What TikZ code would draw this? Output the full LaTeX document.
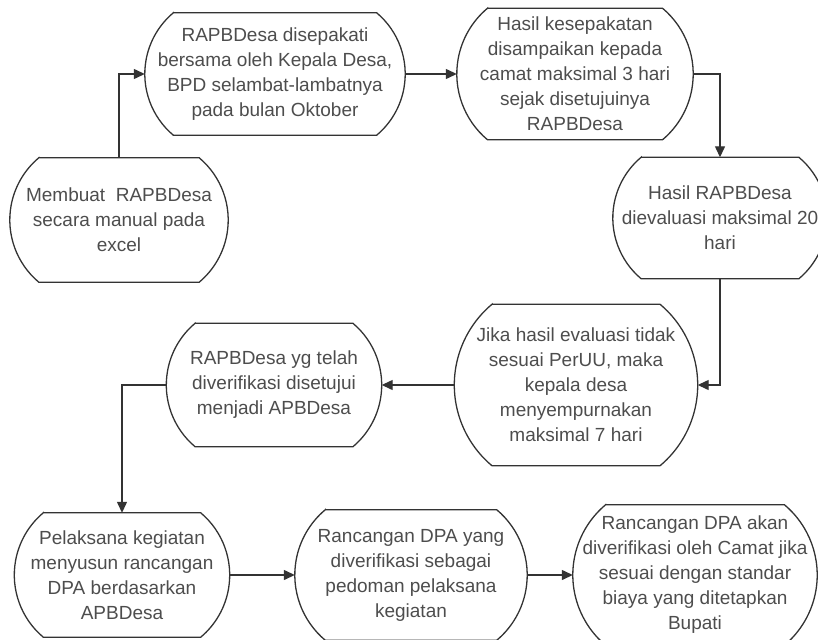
\documentclass[tikz,border=0pt]{standalone}
\usepackage{fontspec}
\setmainfont{Liberation Sans}
\usetikzlibrary{arrows.meta,calc}
\definecolor{abu}{HTML}{4D4D4D}
\definecolor{garis}{HTML}{333333}
\tikzset{
  kotak/.style={rectangle,inner sep=0pt,align=center,text=abu,
                font=\fontsize{19pt}{25pt}\selectfont},
  tepi/.style={draw=garis,line width=1.3pt},
  panah/.style={-{Triangle[length=11pt,width=10pt]},line width=1.3pt,color=garis},
}
\begin{document}
\begin{tikzpicture}[x=1pt,y=-1pt]
  \useasboundingbox (0,0) rectangle (818,639);
  \node[kotak,minimum width=218pt,minimum height=124pt] (a) at (119,220)
    {Membuat\ \ RAPBDesa\\secara manual pada\\excel};
  \node[kotak,minimum width=260pt,minimum height=122pt] (b) at (275,74)
    {RAPBDesa disepakati\\bersama oleh Kepala Desa,\\BPD selambat-lambatnya\\pada bulan Oktober};
  \node[kotak,minimum width=236pt,minimum height=131pt] (c) at (575,74)
    {Hasil kesepakatan\\disampaikan kepada\\camat maksimal 3 hari\\sejak disetujuinya\\RAPBDesa};
  \node[kotak,minimum width=214pt,minimum height=121pt] (d) at (720,218)
    {Hasil RAPBDesa\\dievaluasi maksimal 20\\hari};
  \node[kotak,minimum width=243pt,minimum height=161pt] (e) at (576,385)
    {Jika hasil evaluasi tidak\\sesuai PerUU, maka\\kepala desa\\menyempurnakan\\maksimal 7 hari};
  \node[kotak,minimum width=215pt,minimum height=123pt] (f) at (274,385)
    {RAPBDesa yg telah\\diverifikasi disetujui\\menjadi APBDesa};
  \node[kotak,minimum width=215pt,minimum height=124pt] (g) at (122,575)
    {Pelaksana kegiatan\\menyusun rancangan\\DPA berdasarkan\\APBDesa};
  \node[kotak,minimum width=232pt,minimum height=130pt] (h) at (411,575)
    {Rancangan DPA yang\\diverifikasi sebagai\\pedoman pelaksana\\kegiatan};
  \node[kotak,minimum width=244pt,minimum height=140pt] (i) at (695,575)
    {Rancangan DPA akan\\diverifikasi oleh Camat jika\\sesuai dengan standar\\biaya yang ditetapkan\\Bupati};
  % garis tepi tiap kotak
  \foreach \k in {a,b,c,d,e,f,g,h,i}
    \draw[tepi] let \p1=(\k.north east), \p2=(\k.south west), \n1={(\y1-\y2)/2},
      \n2={\n1/sin(50)}, \n3={\n1*0.4663} in
      (\x2+\n3,\y1) -- (\x1-\n3,\y1) arc[start angle=50,end angle=-50,radius=\n2]
      -- (\x2+\n3,\y2) arc[start angle=230,end angle=130,radius=\n2] -- cycle;
  \draw[panah] (a.north) |- (b.west);
  \foreach \u/\v in {b/c,e/f,g/h,h/i} \draw[panah] (\u) -- (\v);
  \draw[panah] (c.east) -| (d.north);
  \draw[panah] (d.south) |- (e.east);
  \draw[panah] (f.west) -| (g.north);
\end{tikzpicture}
\end{document}
